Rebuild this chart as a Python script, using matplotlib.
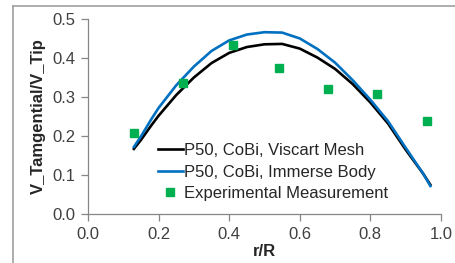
import matplotlib
matplotlib.use("Agg")
import matplotlib.pyplot as plt
from matplotlib.lines import Line2D

# Radial position and tangential velocity ratio
r_curve = [0.13, 0.15, 0.18, 0.20, 0.25, 0.30, 0.35, 0.40, 0.45, 0.50,
           0.55, 0.60, 0.65, 0.70, 0.75, 0.80, 0.85, 0.90, 0.95, 0.97]
viscart = [0.167, 0.190, 0.228, 0.252, 0.305, 0.350, 0.387, 0.413, 0.428, 0.435,
           0.436, 0.424, 0.401, 0.372, 0.333, 0.286, 0.232, 0.165, 0.103, 0.075]
immerse = [0.172, 0.199, 0.244, 0.272, 0.330, 0.378, 0.418, 0.445, 0.460, 0.466,
           0.465, 0.450, 0.423, 0.388, 0.343, 0.293, 0.238, 0.170, 0.103, 0.072]

r_exp = [0.13, 0.27, 0.41, 0.54, 0.68, 0.82, 0.96]
v_exp = [0.208, 0.337, 0.433, 0.374, 0.321, 0.308, 0.238]

x_ticks = [0.0, 0.2, 0.4, 0.6, 0.8, 1.0]
y_ticks = [0.0, 0.1, 0.2, 0.3, 0.4, 0.5]

plt.rcParams["font.family"] = ["Liberation Sans", "DejaVu Sans"]

fig = plt.figure(figsize=(4.56, 2.63), dpi=100)
ax = fig.add_axes([0.193, 0.186, 0.774, 0.742])

ax.plot(r_curve, viscart, color="black", lw=1.9, label="P50, CoBi, Viscart Mesh")
ax.plot(r_curve, immerse, color="#0070C0", lw=1.9, label="P50, CoBi, Immerse Body")
ax.plot(r_exp, v_exp, ls="none", marker="s", ms=6, color="#00B050",
        label="Experimental Measurement")

ax.set_xlim(0, 1.0)
ax.set_ylim(0, 0.5)
ax.set_xticks(x_ticks)
ax.set_yticks(y_ticks)
ax.set_xticklabels([f"{t:.1f}" for t in x_ticks])
ax.set_yticklabels([f"{t:.1f}" for t in y_ticks])

for s in ["top", "right"]:
    ax.spines[s].set_visible(False)
for s in ["left", "bottom"]:
    ax.spines[s].set_color("#868686")
    ax.spines[s].set_linewidth(0.9)
ax.tick_params(direction="out", length=5, width=0.9, color="#868686",
               labelsize=12, labelcolor="#404040", pad=4)

ax.set_xlabel("r/R", fontsize=12, fontweight="bold", color="#262626", labelpad=2)
ax.set_ylabel("V_Tamgential/V_Tip", fontsize=12, fontweight="bold",
              color="#262626", labelpad=5)

leg = ax.legend(loc="center left", bbox_to_anchor=(0.198, 0.215), frameon=False,
                fontsize=12, handlelength=1.5, handletextpad=0.05,
                labelspacing=0.38, borderpad=0, borderaxespad=0)
for t in leg.get_texts():
    t.set_color("#262626")

# chart area frame (partially cropped)
fig.add_artist(Line2D([13 / 456, 13 / 456], [0, 1 - 6 / 263], transform=fig.transFigure,
                      color="#a0a0a0", lw=1.2))
fig.add_artist(Line2D([13 / 456, 1], [1 - 6 / 263, 1 - 6 / 263], transform=fig.transFigure,
                      color="#a0a0a0", lw=1.2))

fig.savefig("out.png", dpi=100)
